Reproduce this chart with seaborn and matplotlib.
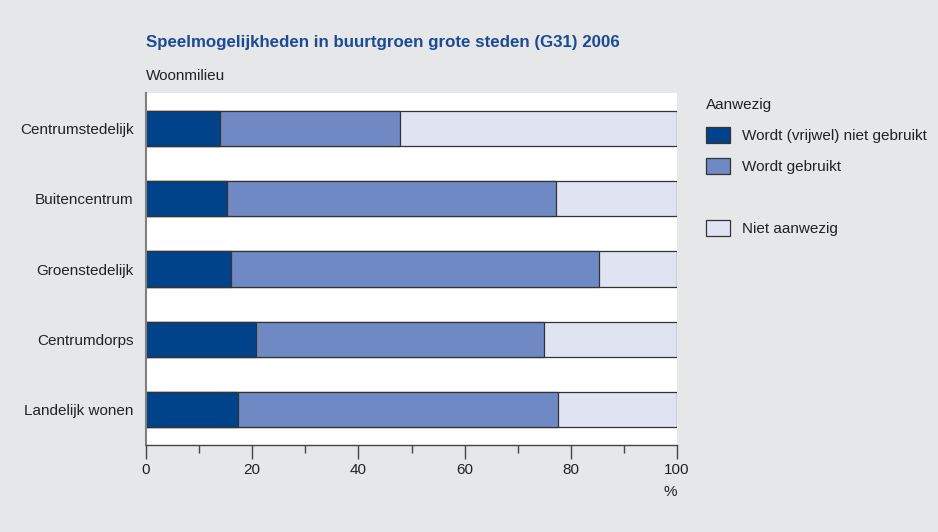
import pandas as pd
import matplotlib.pyplot as plt
import seaborn as sns
from matplotlib.patches import Patch

# Data (percentages)
woonmilieu = ["Centrumstedelijk", "Buitencentrum", "Groenstedelijk",
              "Centrumdorps", "Landelijk wonen"]
niet_gebruikt = [13.9, 15.2, 16.0, 20.7, 17.3]
gebruikt = [34.0, 62.0, 69.4, 54.3, 60.2]
niet_aanwezig = [52.1, 22.8, 14.6, 25.0, 22.5]

labels = ["Wordt (vrijwel) niet gebruikt", "Wordt gebruikt", "Niet aanwezig"]
colors = ["#00438a", "#6e89c3", "#e0e4f2"]

df = pd.DataFrame({"woonmilieu": woonmilieu,
                   "niet_gebruikt": niet_gebruikt,
                   "gebruikt": gebruikt,
                   "niet_aanwezig": niet_aanwezig})
df["cum1"] = df["niet_gebruikt"]
df["cum2"] = df["cum1"] + df["gebruikt"]
df["cum3"] = df["cum2"] + df["niet_aanwezig"]

sns.set_style("white")
plt.rcParams["font.family"] = ["Liberation Sans", "DejaVu Sans"]

fs = 11
bg = "#e6e7e8"
fig = plt.figure(figsize=(9.38, 5.32), dpi=100, facecolor=bg)
ax = fig.add_axes([146 / 938, 1 - 445 / 532, 531 / 938, 352 / 532])
ax.set_facecolor("white")

# stacked bars: draw cumulative totals from the back to the front
for col, c in zip(["cum3", "cum2", "cum1"], colors[::-1]):
    sns.barplot(data=df, x=col, y="woonmilieu", orient="h", color=c,
                edgecolor="#333333", linewidth=0.9, width=0.5, ax=ax,
                saturation=1)

ax.set_xlim(0, 100)
ax.set_ylim(4.5, -0.5)
ax.set_xticks(range(0, 101, 20))
ax.set_xticks(range(10, 100, 20), minor=True)
ax.tick_params(axis="x", which="major", direction="out", length=10, width=1,
               color="#444444", labelsize=fs, pad=3, bottom=True)
ax.tick_params(axis="x", which="minor", direction="out", length=6, width=1,
               color="#444444", bottom=True)
ax.tick_params(axis="y", length=0, labelsize=fs, pad=9)
for lab in ax.get_xticklabels() + ax.get_yticklabels():
    lab.set_color("#222222")

ax.set_ylabel("")
ax.set_xlabel("%", loc="right", fontsize=fs, color="#222222", labelpad=6)

for s in ["top", "right"]:
    ax.spines[s].set_visible(False)
ax.spines["left"].set_color("#808080")
ax.spines["left"].set_linewidth(1.5)
ax.spines["bottom"].set_color("#444444")
ax.spines["bottom"].set_linewidth(1)

fig.text(146 / 938, 1 - 42 / 532,
         "Speelmogelijkheden in buurtgroen grote steden (G31) 2006",
         fontsize=12.2, fontweight="bold", color="#1c4a94", va="center", ha="left")
fig.text(146 / 938, 1 - 76 / 532, "Woonmilieu", fontsize=fs,
         color="#222222", va="center", ha="left")

handles = [Patch(facecolor=colors[0], edgecolor="#333333", linewidth=0.9),
           Patch(facecolor=colors[1], edgecolor="#333333", linewidth=0.9),
           Patch(facecolor="none", edgecolor="none"),
           Patch(facecolor=colors[2], edgecolor="#333333", linewidth=0.9)]
leg = fig.legend(handles, [labels[0], labels[1], "", labels[2]],
                 loc="upper left", bbox_to_anchor=(706 / 938, 1 - 98 / 532),
                 frameon=False, title="Aanwezig", fontsize=fs,
                 title_fontsize=fs, handlelength=1.6, handleheight=1.2,
                 handletextpad=0.75, labelspacing=0.98, borderaxespad=0,
                 borderpad=0)
leg._legend_box.align = "left"
for t in leg.get_texts():
    t.set_color("#222222")
leg.get_title().set_color("#222222")

fig.savefig("out.png", dpi=100, facecolor=bg)
